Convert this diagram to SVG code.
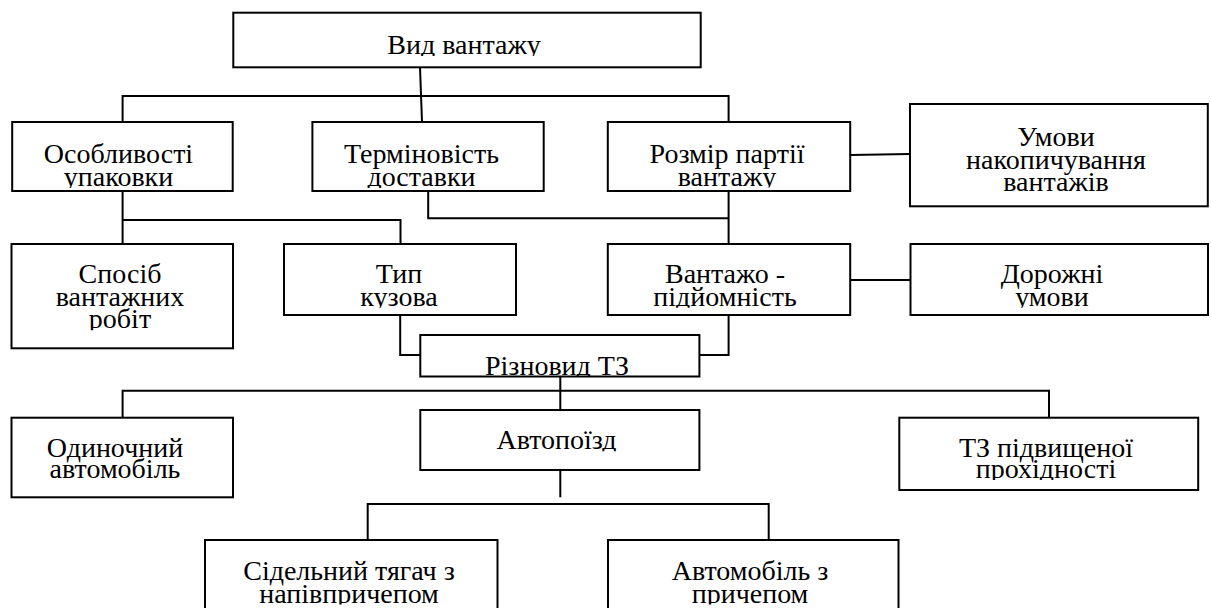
<svg xmlns="http://www.w3.org/2000/svg" width="1211" height="608" viewBox="0 0 1211 608">
<style>
.b{fill:#fff;stroke:#000;stroke-width:2}
.c{fill:none;stroke:#000;stroke-width:2}
text{font-family:"Liberation Serif","Times New Roman",serif;font-size:28px;fill:#000;text-anchor:middle}
</style>
<defs>
<clipPath id="k1"><rect x="233" y="13" width="467" height="43"/></clipPath>
<clipPath id="k2"><rect x="12" y="122" width="221" height="42.5"/><rect x="12" y="164.5" width="221" height="23.5"/></clipPath>
<clipPath id="k3"><rect x="312" y="122" width="232" height="42.5"/><rect x="312" y="164.5" width="232" height="23.5"/></clipPath>
<clipPath id="k4"><rect x="608" y="122" width="242" height="43"/><rect x="608" y="165" width="242" height="22.5"/></clipPath>
<clipPath id="k5"><rect x="910" y="104" width="298" height="44"/><rect x="910" y="148" width="298" height="22.5"/><rect x="910" y="170.5" width="298" height="22.5"/></clipPath>
<clipPath id="k6"><rect x="12" y="244" width="221" height="41.3"/><rect x="12" y="285.3" width="221" height="22.4"/><rect x="12" y="307.7" width="221" height="22.6"/></clipPath>
<clipPath id="k7"><rect x="284" y="244" width="232" height="41.3"/><rect x="284" y="285.3" width="232" height="22.4"/></clipPath>
<clipPath id="k8"><rect x="608" y="244" width="242" height="41.3"/><rect x="608" y="285.3" width="242" height="22.4"/></clipPath>
<clipPath id="k9"><rect x="910" y="244" width="298" height="41.3"/><rect x="910" y="285.3" width="298" height="22.4"/></clipPath>
<clipPath id="k10"><rect x="420" y="335" width="279" height="41.5"/></clipPath>
<clipPath id="k11"><rect x="12" y="418" width="221" height="41.3"/><rect x="12" y="459.3" width="221" height="20.7"/></clipPath>
<clipPath id="k12"><rect x="420" y="410" width="279" height="41.3"/></clipPath>
<clipPath id="k13"><rect x="899" y="418" width="299" height="41.3"/><rect x="899" y="459.3" width="299" height="20.7"/></clipPath>
<clipPath id="k14"><rect x="205" y="540" width="292" height="42"/><rect x="205" y="582" width="292" height="22.5"/></clipPath>
<clipPath id="k15"><rect x="608" y="540" width="290" height="42"/><rect x="608" y="582" width="290" height="22.5"/></clipPath>
</defs>
<g id="connectors">
<path class="c" d="M420 67.3 L422 122"/>
<path class="c" d="M122.6 122 V96 H728.6 V122"/>
<path class="c" d="M122.6 191 V244 M122.6 220 H400.5 V244"/>
<path class="c" d="M428.2 191 V218.3 H728.6 M728.6 191 V244"/>
<path class="c" d="M850.2 155 L910 154"/>
<path class="c" d="M850.2 280 H910.5"/>
<path class="c" d="M400.2 315 V355 H420.3"/>
<path class="c" d="M728.6 315 V355 H699.4"/>
<path class="c" d="M560.3 376.5 V410 M122.6 417.7 V390.7 H1049 V417.7"/>
<path class="c" d="M560.3 470 V497.3"/>
<path class="c" d="M367.7 540 V504 H768.7 V540"/>
</g>
<g id="n-vyd"><rect class="b" x="233.3" y="12.7" width="467.4" height="54.6"/><text clip-path="url(#k1)" x="464" y="54">Вид вантажу</text></g>
<g id="n-osob"><rect class="b" x="12.2" y="122" width="220.5" height="69"/><g clip-path="url(#k2)"><text x="118.5" y="162.5">Особливості</text><text x="118.5" y="186">упаковки</text></g></g>
<g id="n-termin"><rect class="b" x="312.4" y="122" width="231.3" height="69"/><g clip-path="url(#k3)"><text x="421.5" y="162.5">Терміновість</text><text x="421.5" y="186">доставки</text></g></g>
<g id="n-rozmir"><rect class="b" x="607.8" y="122" width="242.4" height="69"/><g clip-path="url(#k4)"><text x="727" y="163">Розмір партії</text><text x="727" y="185.5">вантажу</text></g></g>
<g id="n-umovy"><rect class="b" x="910" y="104" width="297.8" height="102.3"/><g clip-path="url(#k5)"><text x="1056" y="146">Умови</text><text x="1056" y="168.5">накопичування</text><text x="1056" y="191">вантажів</text></g></g>
<g id="n-sposib"><rect class="b" x="11.5" y="244" width="221.5" height="104.3"/><g clip-path="url(#k6)"><text x="120" y="283.3">Спосіб</text><text x="120" y="305.7">вантажних</text><text x="120" y="328.3">робіт</text></g></g>
<g id="n-typ"><rect class="b" x="284" y="244" width="232" height="71"/><g clip-path="url(#k7)"><text x="399" y="283.3">Тип</text><text x="399" y="305.7">кузова</text></g></g>
<g id="n-vantazho"><rect class="b" x="607.8" y="244" width="242.4" height="71"/><g clip-path="url(#k8)"><text x="725" y="283.3">Вантажо -</text><text x="725" y="305.7">підйомність</text></g></g>
<g id="n-dorozhni"><rect class="b" x="910.5" y="244" width="297.5" height="71"/><g clip-path="url(#k9)"><text x="1052" y="283.3">Дорожні</text><text x="1052" y="305.7">умови</text></g></g>
<g id="n-riznovyd"><rect class="b" x="420.3" y="335" width="279.1" height="41.5"/><text clip-path="url(#k10)" x="557" y="374.5">Різновид ТЗ</text></g>
<g id="n-odynochnyi"><rect class="b" x="11.5" y="417.7" width="221.5" height="79.6"/><g clip-path="url(#k11)"><text x="115" y="457.3">Одиночний</text><text x="115" y="478">автомобіль</text></g></g>
<g id="n-avtopoizd"><rect class="b" x="420.3" y="410" width="279.1" height="60"/><text clip-path="url(#k12)" x="556.5" y="449.3">Автопоїзд</text></g>
<g id="n-tz"><rect class="b" x="899.3" y="417.7" width="298.9" height="72.3"/><g clip-path="url(#k13)"><text x="1046" y="457.3">ТЗ підвищеної</text><text x="1046" y="478">прохідності</text></g></g>
<g id="n-sidelnyi"><rect class="b" x="205" y="540" width="292.5" height="80"/><g clip-path="url(#k14)"><text x="349" y="580">Сідельний тягач з</text><text x="349" y="602.5">напівпричепом</text></g></g>
<g id="n-avtomobil"><rect class="b" x="608" y="540" width="290.5" height="80"/><g clip-path="url(#k15)"><text x="750" y="580">Автомобіль з</text><text x="750" y="602.5">причепом</text></g></g>
</svg>
